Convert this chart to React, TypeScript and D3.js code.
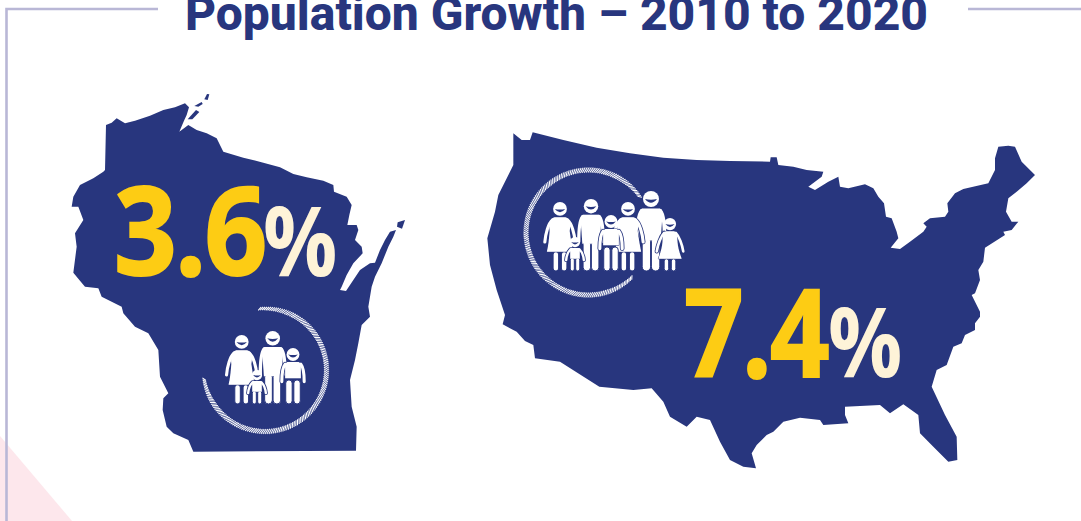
import React from "react";
import * as d3 from "d3";

const width = 1081;
const height = 521;

const NAVY = "#28367e";
const YELLOW = "#fdcc14";
const CREAM = "#fef3d8";
const BORDER = "#b9b7d6";
const PINK = "#fde7ec";

type Pt = [number, number];

const wisconsinOutline: Pt[] = [
  [138, 105], [155, 98], [170, 85], [195, 100], [225, 92], [270, 77], [310, 60], [345, 52], [375, 40], [387, 52],
  [380, 75], [372, 92], [358, 125], [385, 105], [410, 120], [440, 130], [470, 145], [490, 185], [550, 203], [610, 218],
  [660, 232], [700, 252], [740, 262], [790, 272], [820, 285], [822, 305], [860, 320], [875, 345], [868, 375], [862, 405], [890, 405],
  [895, 420], [885, 450], [905, 470], [908, 490], [880, 520], [860, 555], [845, 590], [840, 600], [858, 603], [880, 570],
  [900, 540], [930, 520], [945, 518], [960, 480], [975, 450], [990, 425], [1008, 420], [1000, 440], [985, 470], [965, 520],
  [945, 560], [935, 590], [925, 650], [930, 680], [905, 705], [895, 760], [885, 810], [870, 870], [875, 950], [890, 1010],
  [888, 1082], [400, 1085], [385, 1050], [340, 1030], [320, 1010], [308, 960], [310, 925], [325, 910], [300, 860], [295, 780],
  [265, 730], [225, 710], [190, 670], [185, 650], [125, 620], [115, 595], [75, 590], [58, 570], [40, 548], [50, 470], [45, 430],
  [70, 390], [55, 350], [35, 350], [40, 320], [60, 285], [100, 265], [130, 245], [135, 240],
];
const wisconsinIslands: Pt[][] = [
  [[1013, 397], [1035, 390], [1026, 416], [1011, 410]],
  [[433, 28], [441, 12], [448, 13], [443, 30]],
  [[403, 48], [425, 36], [428, 42], [415, 50]],
  [[383, 88], [408, 60], [418, 66], [397, 88]],
];
const usaOutline: Pt[] = [
  [100, 25], [125, 45], [150, 45], [158, 22], [250, 45], [350, 68], [450, 85], [550, 98], [650, 105], [750, 108],
  [870, 110], [872, 97], [890, 97], [895, 120], [940, 125], [980, 135], [1030, 140], [1025, 155], [985, 185], [1005, 195],
  [1045, 170], [1075, 155], [1080, 185], [1105, 190], [1155, 178], [1180, 190], [1195, 215], [1212, 235], [1218, 275], [1235, 280],
  [1250, 320], [1255, 340], [1232, 368], [1260, 372], [1290, 350], [1330, 320], [1340, 305], [1330, 295], [1350, 280], [1395, 275],
  [1405, 260], [1402, 235], [1425, 205], [1450, 192], [1525, 175], [1545, 135], [1545, 100], [1555, 65], [1585, 62], [1605, 65],
  [1625, 110], [1665, 150], [1640, 175], [1610, 200], [1585, 220], [1578, 260], [1595, 290], [1615, 290], [1595, 315], [1570, 320],
  [1575, 330], [1515, 368], [1510, 410], [1495, 435], [1500, 465], [1485, 505], [1475, 510], [1500, 560], [1500, 575], [1485, 595],
  [1485, 615], [1455, 630], [1445, 655], [1420, 665], [1400, 720], [1370, 735], [1355, 785], [1395, 870], [1430, 935], [1432, 1005],
  [1405, 1010], [1360, 965], [1320, 925], [1315, 870], [1270, 838], [1230, 865], [1200, 840], [1095, 845], [1095, 870], [1105, 895],
  [1030, 900], [1020, 885], [960, 878], [910, 890], [880, 920], [860, 930], [830, 960], [815, 985], [828, 1030], [790, 1025],
  [750, 1005], [720, 950], [690, 885], [650, 875], [620, 905], [570, 875], [550, 830], [515, 790], [460, 795], [358, 785],
  [240, 710], [165, 700], [160, 660], [135, 648], [110, 620], [68, 598], [75, 570], [55, 510], [50, 495], [30, 420],
  [22, 340], [45, 260], [55, 210], [100, 120],
];
const backgroundTriangle: Pt[] = [[0, 436], [72, 521], [0, 521]];
const borderLine: Pt[] = [[158, 9], [6.5, 9], [6.5, 521]];
const borderLineRight: Pt[] = [[968, 9], [1081, 9]];

const titleText = "Population Growth – 2010 to 2020";
const wisconsinValue = "3.6";
const usaValue = "7.4";

type Member = { kind: string; cx: number; feet: number; size: number };
const wisconsinFamily: Member[] = [
  { kind: "woman", cx: 241.7, feet: 404, size: 69 },
  { kind: "man", cx: 272.7, feet: 404, size: 73 },
  { kind: "boy", cx: 293, feet: 404, size: 56 },
  { kind: "toddler", cx: 257, feet: 404, size: 34 },
];
const usaFamily: Member[] = [
  { kind: "woman", cx: 560, feet: 271, size: 69 },
  { kind: "man", cx: 591, feet: 271, size: 72 },
  { kind: "toddler", cx: 575, feet: 271, size: 34 },
  { kind: "man", cx: 651, feet: 271, size: 80 },
  { kind: "woman", cx: 628, feet: 271, size: 69 },
  { kind: "boy", cx: 611, feet: 271, size: 56 },
  { kind: "girl", cx: 670, feet: 271, size: 53 },
];

// figure drawings, 100 units tall, feet at y=100
const figures: Record<string, { r: number; body: string; arms: string; armWidth: number; legs: number[][]; legTop: number }> = {
  woman: {
    r: 10,
    body: "M-8,22 C-15,24 -16,32 -15,42 C-16,55 -17,64 -19,72 L19,72 C17,62 15,50 14,42 C16,32 15,24 8,22 Z",
    arms: "M-11,26 C-17,31 -21,46 -22,58 M11,26 C17,31 21,46 22,58",
    armWidth: 4.5,
    legs: [[-10, -2], [2, 10]],
    legTop: 72,
  },
  man: {
    r: 10,
    body: "M-11,22 L11,22 C14,23 15,26 14,34 L12,62 L-12,62 L-14,34 C-15,26 -14,23 -11,22 Z",
    arms: "M-12,25 C-16,30 -17,44 -17,59 M12,25 C16,30 17,44 17,59",
    armWidth: 4.5,
    legs: [[-11, -0.5], [0.5, 11]],
    legTop: 58,
  },
  boy: {
    r: 11.5,
    body: "M-10,25 L10,25 C13,26 15,30 14,36 L14,54 L-14,54 L-14,36 C-15,30 -13,26 -10,25 Z",
    arms: "M-14,29 C-18,34 -20,48 -20,60 M14,29 C18,34 20,48 20,60",
    armWidth: 5.5,
    legs: [[-13, -1.5], [1.5, 13]],
    legTop: 57,
  },
  toddler: {
    r: 15,
    body: "M-11,32 L11,32 C14,34 15,38 14,44 L14,64 L-14,64 L-14,44 C-15,38 -14,34 -11,32 Z",
    arms: "M-13,36 C-19,42 -25,56 -26,68 M13,36 C19,42 25,56 26,68",
    armWidth: 7,
    legs: [[-14, -2], [2, 14]],
    legTop: 62,
  },
  girl: {
    r: 11.5,
    body: "M-8,25 C-13,28 -14,36 -14,44 C-15,58 -19,68 -22,77 L22,77 C19,68 15,58 14,44 C14,36 13,28 8,25 Z",
    arms: "M-11,28 C-17,34 -23,50 -25,63 M11,28 C17,34 23,50 25,63",
    armWidth: 5,
    legs: [[-11, -2.5], [2.5, 11]],
    legTop: 77,
  },
};

// map unit -> pixel
const mapScale = (origin: number) => d3.scaleLinear().domain([0, 3]).range([origin, origin + 1]);
const wiX = mapScale(60);
const wiY = mapScale(90);
const usX = mapScale(480);
const usY = mapScale(125);

const wiLine = d3.line<Pt>().x((d) => wiX(d[0])).y((d) => wiY(d[1]));
const usLine = d3.line<Pt>().x((d) => usX(d[0])).y((d) => usY(d[1]));
const plainLine = d3.line<Pt>();

const Figure = ({ m }: { m: Member }) => {
  const f = figures[m.kind];
  const k = m.size / 100;
  return (
    <g transform={`translate(${m.cx},${m.feet - m.size}) scale(${k})`}>
      <g stroke={NAVY} strokeWidth={1 / k}>
        <path d={f.arms} fill="none" stroke={NAVY} strokeWidth={f.armWidth + 1.6 / k} strokeLinecap="round" />
        <path d={f.body} fill="#fff" />
        {f.legs.map(([a, b], i) => (
          <rect key={i} x={a} y={f.legTop} width={b - a} height={100 - f.legTop} rx={(b - a) / 2} fill="#fff" />
        ))}
      </g>
      <path d={f.arms} fill="none" stroke="#fff" strokeWidth={f.armWidth} strokeLinecap="round" />
      <path d={f.body} fill="#fff" />
      <circle cx={0} cy={f.r} r={f.r} fill="#fff" />
      <path
        d={`M${-f.r * 0.75},${f.r * 1.0} Q0,${f.r * 1.95} ${f.r * 0.75},${f.r * 1.0} Q0,${f.r * 1.2} ${-f.r * 0.75},${f.r * 1.0} Z`}
        fill={NAVY}
      />
    </g>
  );
};

// hatched ring: short slanted ticks, thinning towards both ends
const Ring = ({ cx, cy, r, from, to }: { cx: number; cy: number; r: number; from: number; to: number }) => {
  const toRad = (deg: number) => ((deg - 90) * Math.PI) / 180;
  const angles = d3.range(from, to, 1.8);
  const thick = d3.scaleLinear().domain([0, 0.1, 0.9, 1]).range([3, 5, 5, 3]);
  const path = d3.path();
  angles.forEach((a, i) => {
    const w = thick(i / angles.length);
    path.moveTo(cx + (r - w / 2) * Math.cos(toRad(a - 1.5)), cy + (r - w / 2) * Math.sin(toRad(a - 1.5)));
    path.lineTo(cx + (r + w / 2) * Math.cos(toRad(a + 1.5)), cy + (r + w / 2) * Math.sin(toRad(a + 1.5)));
  });
  return <path d={path.toString()} fill="none" stroke="#fff" strokeWidth={1.05} />;
};

export default function App() {
  const numberFont = "'Open Sans', sans-serif";
  return (
    <svg
      width={width}
      height={height}
      viewBox={`0 0 ${width} ${height}`}
      style={{ position: "absolute", left: 0, top: 0, background: "#fff" }}
    >
      <path d={`${plainLine(backgroundTriangle)}Z`} fill={PINK} />
      <path d={plainLine(borderLine) ?? ""} fill="none" stroke={BORDER} strokeWidth={2.6} />
      <path d={plainLine(borderLineRight) ?? ""} fill="none" stroke={BORDER} strokeWidth={2.6} />

      <text x={556.5} y={30} textAnchor="middle" fontFamily="Roboto" fontWeight={800} fontSize={48} fill={NAVY}>
        {titleText}
      </text>

      <path d={`${wiLine(wisconsinOutline)}Z`} fill={NAVY} />
      {wisconsinIslands.map((island, i) => (
        <path key={i} d={`${wiLine(island)}Z`} fill={NAVY} />
      ))}
      <path d={`${usLine(usaOutline)}Z`} fill={NAVY} />

      <text transform="translate(114,275) scale(0.9,1)" fontFamily={numberFont} fontWeight={700} fontSize={122} fill={YELLOW} stroke={YELLOW} strokeWidth={2} letterSpacing={-2}>
        {wisconsinValue}
      </text>
      <text transform="translate(263,276) scale(0.86,1)" fontFamily={numberFont} fontWeight={700} fontSize={96} fill={CREAM}>
        %
      </text>

      <Ring cx={265} cy={370} r={61.5} from={-5} to={263} />
      {wisconsinFamily.map((m, i) => (
        <Figure key={i} m={m} />
      ))}

      <text transform="translate(684,377) scale(0.855,1)" fontFamily={numberFont} fontWeight={700} fontSize={122} fill={YELLOW} stroke={YELLOW} strokeWidth={2} letterSpacing={-2}>
        {usaValue}
      </text>
      <text transform="translate(828,377) scale(0.86,1)" fontFamily={numberFont} fontWeight={700} fontSize={96} fill={CREAM}>
        %
      </text>

      <Ring cx={588.5} cy={232.5} r={62.5} from={136} to={416} />
      {usaFamily.map((m, i) => (
        <Figure key={i} m={m} />
      ))}
    </svg>
  );
}
